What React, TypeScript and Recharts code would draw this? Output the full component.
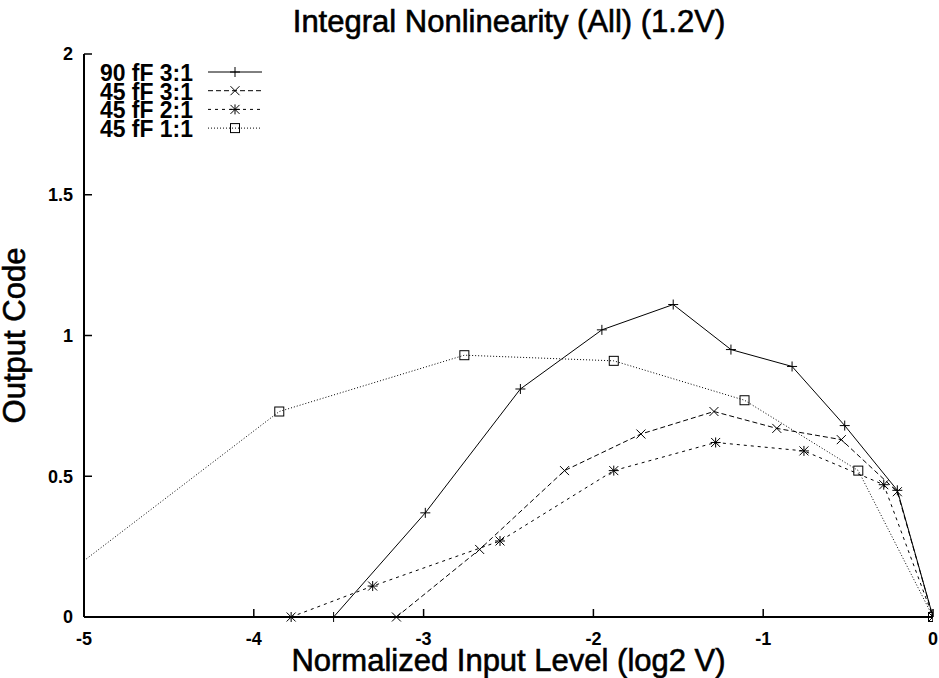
import { LineChart, Line, XAxis, YAxis, Legend } from "recharts";

const FONT = '"Liberation Sans", Arial, Helvetica, sans-serif';

// axis ticks
const xTicks = [-5, -4, -3, -2, -1, 0];
const yTicks = [0, 0.5, 1, 1.5, 2];

// 90 fF 3:1
const x90f31 = [-3.53, -2.99, -2.43, -1.95, -1.53, -1.19, -0.83, -0.52, -0.21, 0];
const y90f31 = [0, 0.37, 0.81, 1.02, 1.11, 0.95, 0.89, 0.68, 0.45, 0];

// 45 fF 3:1
const x45f31 = [-3.16, -2.67, -2.17, -1.72, -1.29, -0.92, -0.54, -0.21, 0];
const y45f31 = [0, 0.24, 0.52, 0.65, 0.73, 0.67, 0.63, 0.445, 0];

// 45 fF 2:1
const x45f21 = [-3.78, -3.3, -2.55, -1.88, -1.28, -0.76, -0.29, 0];
const y45f21 = [0, 0.11, 0.27, 0.52, 0.62, 0.59, 0.47, 0];

// 45 fF 1:1 (first point sits on the left border, line is clipped there)
const x45f11 = [-5, -3.85, -2.76, -1.88, -1.11, -0.44, 0];
const y45f11 = [0.2, 0.73, 0.93, 0.91, 0.77, 0.52, 0];

const toPoints = (xs: number[], ys: number[]) => xs.map((x, i) => ({ x, y: ys[i] }));

const series = [
  { name: "90 fF 3:1", data: toPoints(x90f31, y90f31), dash: undefined, marker: "plus" },
  { name: "45 fF 3:1", data: toPoints(x45f31, y45f31), dash: "5 3", marker: "cross" },
  { name: "45 fF 2:1", data: toPoints(x45f21, y45f21), dash: "3 4", marker: "star" },
  { name: "45 fF 1:1", data: toPoints(x45f11, y45f11), dash: "1 2", marker: "box" },
];

function Marker({ kind, cx, cy }: { kind: string; cx: number; cy: number }) {
  const s = 5;
  const c = 4.5;
  const plus = `M${cx - s},${cy}H${cx + s}M${cx},${cy - s}V${cy + s}`;
  const cross = `M${cx - c},${cy - c}L${cx + c},${cy + c}M${cx - c},${cy + c}L${cx + c},${cy - c}`;
  if (kind === "box") {
    return <rect x={cx - 4.5} y={cy - 4.5} width={9} height={9} fill="none" stroke="#000" strokeWidth={1} />;
  }
  const d = kind === "plus" ? plus : kind === "cross" ? cross : plus + cross;
  return <path d={d} fill="none" stroke="#000" strokeWidth={1} />;
}

function LegendBox() {
  return (
    <svg width={280} height={150} style={{ display: "block" }}>
      {series.map((s, i) => {
        const y = 72 + i * 18.7;
        return (
          <g key={s.name}>
            <text
              x={193}
              y={y + 9}
              textAnchor="end"
              fontSize={23}
              fontWeight="bold"
              fontFamily={FONT}
              fill="#000"
              textLength={93}
              lengthAdjust="spacingAndGlyphs"
            >
              {s.name}
            </text>
            <line x1={208} x2={262} y1={y} y2={y} stroke="#000" strokeWidth={1} strokeDasharray={s.dash} />
            <Marker kind={s.marker} cx={235} cy={y} />
          </g>
        );
      })}
    </svg>
  );
}

const XTick = ({ x, y, payload }: any) => (
  <text x={x} y={y} dy="0.72em" textAnchor="middle" fontSize={18} fontWeight="bold" fontFamily={FONT} fill="#000">
    {payload.value}
  </text>
);

const YTick = ({ x, y, payload }: any) => (
  <text x={x} y={y} dy="0.36em" textAnchor="end" fontSize={18} fontWeight="bold" fontFamily={FONT} fill="#000">
    {payload.value}
  </text>
);

const axisStyle = { stroke: "#000", strokeWidth: 2 };
const tickLineStyle = { stroke: "#000", strokeWidth: 1.5 };
const bigText = { fontSize: 31, fontFamily: FONT, fill: "#000", stroke: "#000", strokeWidth: 0.6 };

export default function App() {
  return (
    <div style={{ position: "absolute", left: 0, top: 0, width: 939, height: 678, background: "#fff" }}>
      <svg width={939} height={50} style={{ position: "absolute", left: 0, top: 0 }}>
        <text x={509} y={32} textAnchor="middle" {...bigText}>
          Integral Nonlinearity (All) (1.2V)
        </text>
      </svg>
      <LineChart width={939} height={678} margin={{ top: 54, right: 6, bottom: 0, left: 0 }}>
        <XAxis
          xAxisId="bottom"
          type="number"
          dataKey="x"
          domain={[-5, 0]}
          ticks={xTicks}
          allowDataOverflow
          height={61}
          axisLine={axisStyle}
          tickLine={tickLineStyle}
          tickSize={-8}
          tickMargin={23}
          tick={<XTick />}
          label={{
            value: "Normalized Input Level (log2 V)",
            position: "insideTop",
            offset: 32,
            ...bigText,
          }}
        />
        <XAxis
          xAxisId="top"
          orientation="top"
          type="number"
          dataKey="x"
          domain={[-5, 0]}
          ticks={xTicks}
          height={0}
          axisLine={axisStyle}
          tickLine={tickLineStyle}
          tickSize={-8}
          tickFormatter={() => ""}
        />
        <YAxis
          yAxisId="left"
          type="number"
          domain={[0, 2]}
          ticks={yTicks}
          width={84}
          axisLine={axisStyle}
          tickLine={tickLineStyle}
          tickSize={-8}
          tickMargin={19}
          tick={<YTick />}
          label={{
            value: "Output Code",
            position: "insideLeft",
            angle: -90,
            offset: 14,
            ...bigText,
            style: { textAnchor: "middle" },
          }}
        />
        <YAxis
          yAxisId="right"
          orientation="right"
          type="number"
          domain={[0, 2]}
          ticks={yTicks}
          width={0}
          axisLine={axisStyle}
          tickLine={tickLineStyle}
          tickSize={-8}
          tickFormatter={() => ""}
        />
        <Legend
          layout="horizontal"
          verticalAlign="middle"
          align="center"
          content={() => <LegendBox />}
          wrapperStyle={{ position: "absolute", left: 0, top: 0, width: 280, height: 150 }}
        />
        {series.map((s) => (
          <Line
            key={s.name}
            name={s.name}
            xAxisId="bottom"
            yAxisId="left"
            data={s.data}
            dataKey="y"
            stroke="#000"
            strokeWidth={1}
            strokeDasharray={s.dash}
            isAnimationActive={false}
            activeDot={false}
            dot={(p: any) =>
              p.payload.x > -5 ? (
                <Marker key={`${s.name}-${p.index}`} kind={s.marker} cx={p.cx} cy={p.cy} />
              ) : (
                <g key={`${s.name}-${p.index}`} />
              )
            }
          />
        ))}
      </LineChart>
    </div>
  );
}
